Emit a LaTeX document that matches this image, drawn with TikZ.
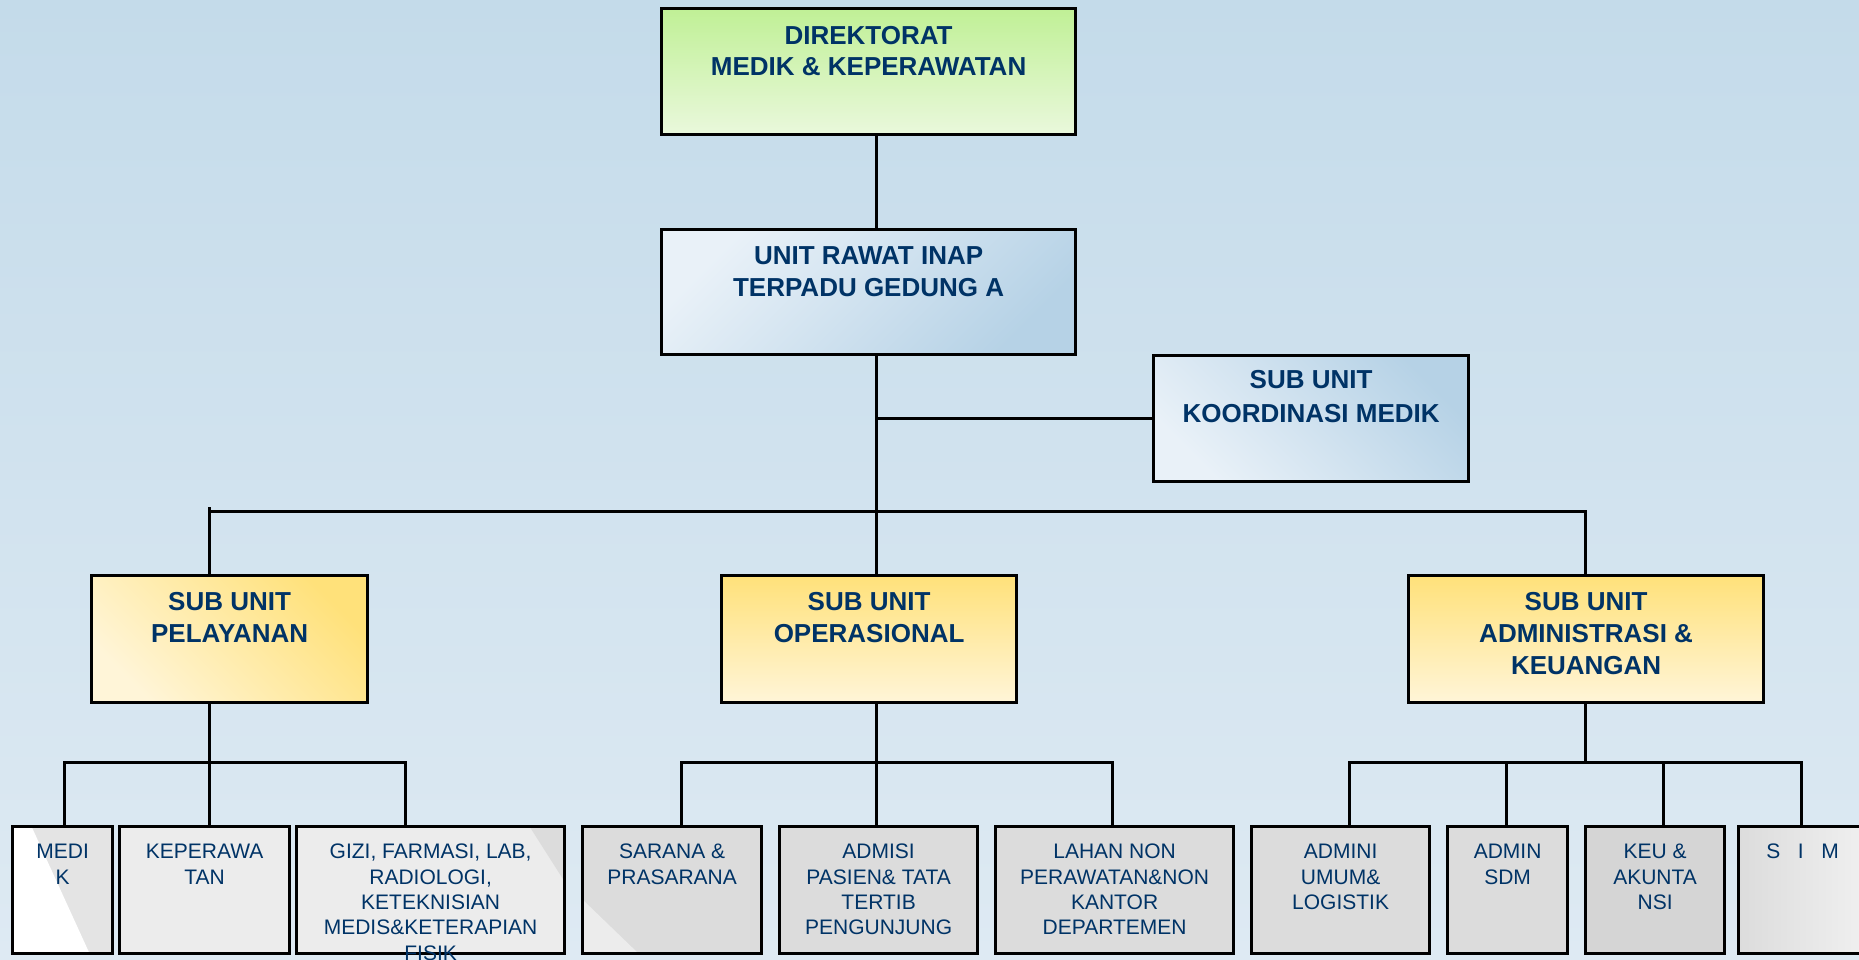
\documentclass[tikz,border=0pt]{standalone}
\usepackage{fontspec}
\setmainfont{Liberation Sans}
\definecolor{navy}{RGB}{0,51,102}
\definecolor{bgtop}{RGB}{196,219,234}
\definecolor{bgbot}{RGB}{222,234,243}
\definecolor{grtop}{RGB}{192,240,150}
\definecolor{grbot}{RGB}{234,248,220}
\definecolor{blulight}{RGB}{233,241,248}
\definecolor{blumid}{RGB}{214,229,240}
\definecolor{bludark}{RGB}{182,210,230}
\definecolor{yedark}{RGB}{255,225,122}
\definecolor{yemid}{RGB}{255,237,180}
\definecolor{yelight}{RGB}{255,245,216}
\definecolor{greyA}{RGB}{220,220,220}
\definecolor{greyB}{RGB}{236,236,236}
\definecolor{greyC}{RGB}{213,213,213}
\definecolor{greyD}{RGB}{240,240,240}
\definecolor{greyE}{RGB}{228,228,228}
\newcommand{\bxt}[4]{\parbox[t][#2pt][t]{#1pt}{\centering\rule{0pt}{#3pt}#4}}
\tikzset{
  hdr/.style={draw=black, line width=3.2pt, inner sep=0pt, anchor=north west, text=navy,
    font=\bfseries\fontsize{26}{32}\selectfont},
  leaf/.style={draw=black, line width=3.2pt, inner sep=0pt, anchor=north west, text=navy,
    font=\fontsize{21}{25.4}\selectfont},
  conn/.style={draw=black, line width=3pt}
}
\begin{document}
\begin{tikzpicture}[x=1pt,y=-1pt]
\useasboundingbox (0,0) rectangle (1859,959);
\clip (0,0) rectangle (1859,959);
\shade[top color=bgtop, bottom color=bgbot] (0,0) rectangle (1859,959);

% top level
\node[hdr, top color=grtop, bottom color=grbot, font=\bfseries\fontsize{26}{31}\selectfont] (dir) at (660,7)
  {\bxt{414}{126}{36}{DIREKTORAT\\MEDIK \& KEPERAWATAN}};
\node[hdr, top color=blulight, middle color=blumid, bottom color=bludark, shading angle=45] (unit) at (660,228)
  {\bxt{414}{125}{35}{UNIT RAWAT INAP\\TERPADU GEDUNG A}};
\node[hdr, top color=bludark, middle color=blumid, bottom color=blulight, shading angle=-45, font=\bfseries\fontsize{26}{34}\selectfont] (koord) at (1152,354)
  {\bxt{315}{126}{33}{SUB UNIT\\KOORDINASI MEDIK}};

% sub units
\node[hdr, top color=yedark, middle color=yemid, bottom color=yelight, shading angle=-45] (pel) at (90,574)
  {\bxt{276}{127}{35}{SUB UNIT\\PELAYANAN}};
\node[hdr, top color=yedark, bottom color=yelight] (ops) at (720,574)
  {\bxt{295}{127}{35}{SUB UNIT\\OPERASIONAL}};
\node[hdr, top color=yedark, bottom color=yelight] (adm) at (1407,574)
  {\bxt{355}{127}{35}{SUB UNIT\\ADMINISTRASI \&\\KEUANGAN}};

% leaves
\node[leaf, fill=greyE, path picture={\fill[white] (path picture bounding box.north west) -- ++(19,0) -- ([xshift=77pt]path picture bounding box.south west) -- (path picture bounding box.south west) -- cycle;}] (medik) at (11,825)
  {\bxt{100}{127}{32}{MEDI\\K}};
\node[leaf, fill=greyB] (kep) at (118,825)
  {\bxt{170}{127}{32}{KEPERAWA\\TAN}};
\node[leaf, fill=greyB, path picture={\fill[greyA] (path picture bounding box.north east) -- ++(-35,0) -- ++(35,55) -- cycle;}] (gizi) at (295,825)
  {\bxt{268}{127}{32}{GIZI, FARMASI, LAB,\\RADIOLOGI,\\KETEKNISIAN\\MEDIS\&KETERAPIAN\\FISIK}};
\node[leaf, fill=greyA, path picture={\fill[greyB] (path picture bounding box.south west) -- ++(0,-54) -- ++(56,54) -- cycle;}] (sar) at (581,825)
  {\bxt{179}{127}{32}{SARANA \&\\PRASARANA}};
\node[leaf, fill=greyA] (admisi) at (778,825)
  {\bxt{198}{127}{32}{ADMISI\\PASIEN\& TATA\\TERTIB\\PENGUNJUNG}};
\node[leaf, fill=greyA] (lahan) at (994,825)
  {\bxt{238}{127}{32}{LAHAN NON\\PERAWATAN\&NON\\KANTOR\\DEPARTEMEN}};
\node[leaf, fill=greyA] (admu) at (1250,825)
  {\bxt{178}{127}{32}{ADMINI\\UMUM\&\\LOGISTIK}};
\node[leaf, fill=greyA] (sdm) at (1446,825)
  {\bxt{120}{127}{32}{ADMIN\\SDM}};
\node[leaf, fill=greyC] (keu) at (1584,825)
  {\bxt{139}{127}{32}{KEU \&\\AKUNTA\\NSI}};
\node[leaf, left color=greyA, right color=greyD] (sim) at (1737,825)
  {\bxt{128}{127}{32}{S~~~I~~~M}};

% connectors
\draw[conn] (876,0 |- dir.south) -- (876,0 |- unit.north);
\draw[conn] (876,0 |- unit.south) -- (876,0 |- ops.north);
\draw[conn] (koord.west) -- (876,0 |- koord.west);
\draw[conn] (209,0 |- pel.north) -- (209,507);
\draw[conn] (209,511) -- (1585,511) -- (1585,0 |- adm.north);

\draw[conn] (209,0 |- pel.south) -- (209,0 |- kep.north);
\draw[conn] (64,0 |- medik.north) -- (64,762) -- (405,762) -- (405,0 |- gizi.north);

\draw[conn] (876,0 |- ops.south) -- (876,0 |- admisi.north);
\draw[conn] (681,0 |- sar.north) -- (681,762) -- (1112,762) -- (1112,0 |- lahan.north);

\draw[conn] (1585,0 |- adm.south) -- (1585,762);
\draw[conn] (1349,0 |- admu.north) -- (1349,762) -- (1801,762) -- (1801,0 |- sim.north);
\draw[conn] (1506,762) -- (1506,0 |- sdm.north);
\draw[conn] (1663,762) -- (1663,0 |- keu.north);
\end{tikzpicture}
\end{document}
